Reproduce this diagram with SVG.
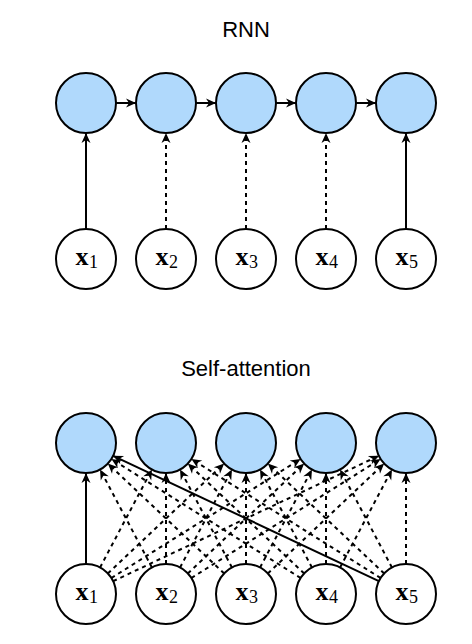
<svg xmlns="http://www.w3.org/2000/svg" width="472" height="644" viewBox="0 0 472 644">
<style>
.title{font-family:"Liberation Sans",Arial,sans-serif;font-size:22px;fill:#000;text-anchor:middle}
.h{fill:#b0d9fc;stroke:#000;stroke-width:2}
.x{fill:#fff;stroke:#000;stroke-width:2}
.xv{font-family:"Liberation Serif","Times New Roman",serif;font-size:26px;font-weight:bold;text-anchor:middle}
.sub{font-family:"Liberation Serif","Times New Roman",serif;font-size:18px}
.s{stroke:#000;stroke-width:2;fill:none;marker-end:url(#ah)}
.d{stroke:#000;stroke-width:2;fill:none;stroke-dasharray:4 4;marker-end:url(#ah)}
</style>
<defs>
<marker id="ah" markerUnits="userSpaceOnUse" markerWidth="11" markerHeight="10" refX="10" refY="4.5" orient="auto" overflow="visible">
<path d="M0,0 L10,4.5 L0,9 L3,4.5 z" fill="#000"/>
</marker>
</defs>
<rect width="472" height="644" fill="#fff"/>
<text class="title" x="246" y="37">RNN</text>
<text class="title" x="246" y="376">Self-attention</text>
<g id="connectors">
<line class="s" x1="116" y1="103" x2="136" y2="103"/>
<line class="s" x1="196" y1="103" x2="216" y2="103"/>
<line class="s" x1="276" y1="103" x2="296" y2="103"/>
<line class="s" x1="356" y1="103" x2="376" y2="103"/>
<line class="s" x1="86" y1="229" x2="86" y2="133"/>
<line class="d" x1="166" y1="229" x2="166" y2="133"/>
<line class="d" x1="246" y1="229" x2="246" y2="133"/>
<line class="d" x1="326" y1="229" x2="326" y2="133"/>
<line class="s" x1="406" y1="229" x2="406" y2="133"/>
<line class="s" x1="86" y1="564" x2="86" y2="473"/>
<line class="d" x1="100.05" y1="567.49" x2="151.95" y2="469.51"/>
<line class="d" x1="107.82" y1="573.41" x2="224.18" y2="463.59"/>
<line class="d" x1="111.39" y1="578.02" x2="300.61" y2="458.98"/>
<line class="d" x1="113.13" y1="581.2" x2="378.87" y2="455.8"/>
<line class="d" x1="151.95" y1="567.49" x2="100.05" y2="469.51"/>
<line class="d" x1="166" y1="564" x2="166" y2="473"/>
<line class="d" x1="180.05" y1="567.49" x2="231.95" y2="469.51"/>
<line class="d" x1="187.82" y1="573.41" x2="304.18" y2="463.59"/>
<line class="d" x1="191.39" y1="578.02" x2="380.61" y2="458.98"/>
<line class="d" x1="224.18" y1="573.41" x2="107.82" y2="463.59"/>
<line class="d" x1="231.95" y1="567.49" x2="180.05" y2="469.51"/>
<line class="d" x1="246" y1="564" x2="246" y2="473"/>
<line class="d" x1="260.05" y1="567.49" x2="311.95" y2="469.51"/>
<line class="d" x1="267.82" y1="573.41" x2="384.18" y2="463.59"/>
<line class="d" x1="300.61" y1="578.02" x2="111.39" y2="458.98"/>
<line class="d" x1="304.18" y1="573.41" x2="187.82" y2="463.59"/>
<line class="d" x1="311.95" y1="567.49" x2="260.05" y2="469.51"/>
<line class="d" x1="326" y1="564" x2="326" y2="473"/>
<line class="d" x1="340.05" y1="567.49" x2="391.95" y2="469.51"/>
<line class="s" x1="378.87" y1="581.2" x2="113.13" y2="455.8"/>
<line class="d" x1="380.61" y1="578.02" x2="191.39" y2="458.98"/>
<line class="d" x1="384.18" y1="573.41" x2="267.82" y2="463.59"/>
<line class="d" x1="391.95" y1="567.49" x2="340.05" y2="469.51"/>
<line class="d" x1="406" y1="564" x2="406" y2="473"/>
</g>
<g id="rnn-h1"><circle class="h" cx="86" cy="103" r="30"/></g>
<g id="rnn-h2"><circle class="h" cx="166" cy="103" r="30"/></g>
<g id="rnn-h3"><circle class="h" cx="246" cy="103" r="30"/></g>
<g id="rnn-h4"><circle class="h" cx="326" cy="103" r="30"/></g>
<g id="rnn-h5"><circle class="h" cx="406" cy="103" r="30"/></g>
<g id="rnn-x1"><circle class="x" cx="86" cy="259" r="30"/><text class="xv" x="82" y="265">x</text><text class="sub" x="89" y="268">1</text></g>
<g id="rnn-x2"><circle class="x" cx="166" cy="259" r="30"/><text class="xv" x="162" y="265">x</text><text class="sub" x="169" y="268">2</text></g>
<g id="rnn-x3"><circle class="x" cx="246" cy="259" r="30"/><text class="xv" x="242" y="265">x</text><text class="sub" x="249" y="268">3</text></g>
<g id="rnn-x4"><circle class="x" cx="326" cy="259" r="30"/><text class="xv" x="322" y="265">x</text><text class="sub" x="329" y="268">4</text></g>
<g id="rnn-x5"><circle class="x" cx="406" cy="259" r="30"/><text class="xv" x="402" y="265">x</text><text class="sub" x="409" y="268">5</text></g>
<g id="sa-h1"><circle class="h" cx="86" cy="443" r="30"/></g>
<g id="sa-h2"><circle class="h" cx="166" cy="443" r="30"/></g>
<g id="sa-h3"><circle class="h" cx="246" cy="443" r="30"/></g>
<g id="sa-h4"><circle class="h" cx="326" cy="443" r="30"/></g>
<g id="sa-h5"><circle class="h" cx="406" cy="443" r="30"/></g>
<g id="sa-x1"><circle class="x" cx="86" cy="594" r="30"/><text class="xv" x="82" y="600">x</text><text class="sub" x="89" y="603">1</text></g>
<g id="sa-x2"><circle class="x" cx="166" cy="594" r="30"/><text class="xv" x="162" y="600">x</text><text class="sub" x="169" y="603">2</text></g>
<g id="sa-x3"><circle class="x" cx="246" cy="594" r="30"/><text class="xv" x="242" y="600">x</text><text class="sub" x="249" y="603">3</text></g>
<g id="sa-x4"><circle class="x" cx="326" cy="594" r="30"/><text class="xv" x="322" y="600">x</text><text class="sub" x="329" y="603">4</text></g>
<g id="sa-x5"><circle class="x" cx="406" cy="594" r="30"/><text class="xv" x="402" y="600">x</text><text class="sub" x="409" y="603">5</text></g>
</svg>
